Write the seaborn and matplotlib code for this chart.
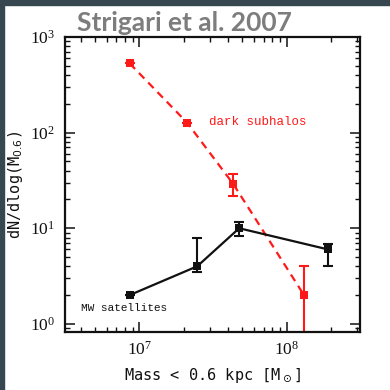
import numpy as np
import pandas as pd
import matplotlib
matplotlib.use("Agg")
import matplotlib.pyplot as plt
import matplotlib.patches as mpatches
from matplotlib.ticker import LogLocator, LogFormatterSciNotation, NullFormatter
import seaborn as sns

# Dark subhalo counts (simulation)
sub_mass = [8.6e6, 2.11e7, 4.34e7, 1.31e8]
sub_count = [530, 127, 29, 2.0]
sub_err_lo = [0, 0, 7, 1.7]
sub_err_hi = [0, 0, 8, 2.0]

# Milky Way satellite counts
mw_mass = [8.6e6, 2.47e7, 4.76e7, 1.91e8]
mw_count = [2.0, 4.0, 10.0, 6.0]
mw_err_lo = [0, 0.55, 1.8, 2.0]
mw_err_hi = [0, 4.0, 1.7, 0.9]

title_text = "Strigari et al. 2007"
sub_label = "dark subhalos"
mw_label = "MW satellites"

sns.set_theme(style="ticks")
plt.rcParams["font.family"] = ["DejaVu Sans"]

fig = plt.figure(figsize=(3.9, 3.9), dpi=100)
fig.patch.set_facecolor("white")
ax = fig.add_axes([65 / 390, 58 / 390, 295 / 390, 295 / 390])

red = "#ff1a1a"
black = "#111111"

sub_df = pd.DataFrame({"mass": sub_mass, "count": sub_count})
mw_df = pd.DataFrame({"mass": mw_mass, "count": mw_count})

sns.lineplot(data=sub_df, x="mass", y="count", ax=ax, color=red, lw=1.6,
             linestyle=(0, (3.5, 2.5)), marker="s", markersize=6,
             markeredgewidth=0, sort=False, zorder=3)
sns.lineplot(data=mw_df, x="mass", y="count", ax=ax, color=black, lw=1.6,
             marker="s", markersize=6, markeredgewidth=0, sort=False, zorder=3)

ax.errorbar(sub_mass, sub_count, yerr=[sub_err_lo, sub_err_hi], fmt="none",
            ecolor=red, elinewidth=1.5, capsize=3.6, capthick=1.5, zorder=2)
ax.errorbar(mw_mass, mw_count, yerr=[mw_err_lo, mw_err_hi], fmt="none",
            ecolor=black, elinewidth=1.5, capsize=3.6, capthick=1.5, zorder=2)

ax.set_xscale("log")
ax.set_yscale("log")
ax.set_xlim(10 ** 6.496, 10 ** 8.497)
ax.set_ylim(10 ** -0.085, 10 ** 3.0)

for a in (ax.xaxis, ax.yaxis):
    a.set_major_locator(LogLocator(base=10))
    a.set_minor_locator(LogLocator(base=10, subs=np.arange(2, 10)))
    a.set_minor_formatter(NullFormatter())
    a.set_major_formatter(LogFormatterSciNotation())

ax.tick_params(which="both", direction="in", top=True, right=True,
               color=black)
ax.tick_params(which="major", length=7, width=1.1, pad=6)
ax.tick_params(which="minor", length=3.5, width=1.0)
ax.tick_params(axis="y", which="major", pad=7)
for lab in ax.get_xticklabels() + ax.get_yticklabels():
    lab.set_fontfamily("Liberation Serif")
    lab.set_fontsize(12.5)
    lab.set_color(black)
for s in ax.spines.values():
    s.set_linewidth(1.6)
    s.set_color(black)

ax.set_xlabel("Mass < 0.6 kpc [M$_\\odot$]", fontfamily="DejaVu Sans Mono",
              fontsize=11, color=black, labelpad=6)
ax.set_ylabel("dN/dlog(M$_{0.6}$)", fontfamily="DejaVu Sans Mono",
              fontsize=11, color=black, labelpad=4)

ax.text(2.95e7, 130, sub_label, color=red, fontfamily="Liberation Mono",
        fontsize=9, va="center", ha="left")
ax.text(4.0e6, 1.48, mw_label, color=black, fontfamily="Liberation Mono",
        fontsize=8, va="center", ha="left")

# Title sitting over the top edge of the frame
fig.text(184 / 390, 1 - 23 / 390, title_text, ha="center", va="center",
         fontsize=19, fontweight="bold", color="#7d7d7d", fontfamily="Lato",
         zorder=10)

# Slate border along the top and left edges
fig.patches.append(mpatches.Rectangle((0, 1 - 5 / 390), 1, 5 / 390,
                                      transform=fig.transFigure,
                                      color="#37474f", zorder=0))
fig.patches.append(mpatches.Rectangle((0, 0), 4 / 390, 1,
                                      transform=fig.transFigure,
                                      color="#37474f", zorder=0))

fig.savefig("out.png", dpi=100)
